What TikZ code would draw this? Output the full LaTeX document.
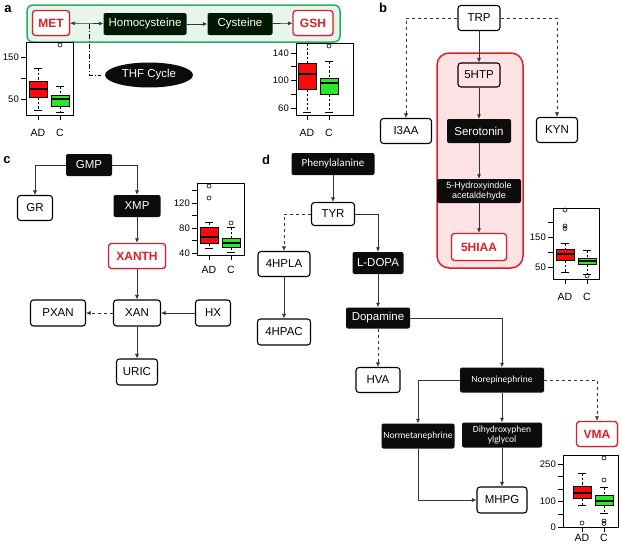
\documentclass[tikz,border=0pt]{standalone}
\usepackage{fontspec}
\setmainfont{Liberation Sans}
\newfontfamily\smallfont{Carlito}
\usetikzlibrary{shapes.geometric, arrows.meta, positioning, shadows}
\definecolor{hitRed}{RGB}{222,30,36}
\definecolor{frameGreen}{RGB}{45,170,100}
\definecolor{frameGreenFill}{RGB}{232,245,236}
\definecolor{framePink}{RGB}{255,226,229}
\definecolor{boxRed}{RGB}{250,10,10}
\definecolor{boxGreen}{RGB}{40,235,40}
\definecolor{nearBlack}{RGB}{12,12,12}

% one group of a boxplot: centre x, upper whisker, Q3, median, Q1, lower whisker, colour, axis bottom
\newcommand{\bpgroup}[8]{%
  \draw[whisk] (#1,#2) -- (#1,#3) (#1,#5) -- (#1,#6);
  \draw[bpline] (#1-4,#2) -- (#1+4,#2) (#1-4,#6) -- (#1+4,#6);
  \draw[bpline, fill=#7] (#1-9,#3) rectangle (#1+9,#5);
  \draw[line width=1.3pt] (#1-9,#4) -- (#1+9,#4);
  \draw[bpline] (#1,#8) -- (#1,#8+5);
}

\begin{document}
\begin{tikzpicture}[
    x=1pt, y=-1pt,
    metab/.style={rectangle, rounded corners=3pt, draw=black, line width=1.1pt, fill=white, minimum height=25pt, inner sep=1pt, font=\fontsize{11.5}{13}\selectfont},
    darkbox/.style={rectangle, rounded corners=2pt, fill=nearBlack, text=white, minimum height=22pt, inner sep=1pt, font=\fontsize{11.5}{13}\selectfont},
    smalldark/.style={darkbox, font=\smallfont\fontsize{9.5}{10.5}\selectfont, align=center},
    hitbox/.style={metab, draw=hitRed, text=hitRed, line width=1.3pt, font=\fontsize{12}{13}\selectfont\bfseries, drop shadow={opacity=0.25, shadow xshift=1pt, shadow yshift=-1pt}},
    arrow/.style={-{Latex[length=4.5pt, width=4pt]}, line width=0.6pt, draw=black!80},
    dasharrow/.style={arrow, dashed},
    panel/.style={font=\fontsize{13}{14}\selectfont\bfseries},
    bpline/.style={line width=0.6pt},
    whisk/.style={line width=0.6pt, dashed, dash pattern=on 2.5pt off 2pt},
    ticklbl/.style={anchor=east, inner sep=1pt, font=\fontsize{9.5}{10}\selectfont},
    grplbl/.style={inner sep=1pt, font=\fontsize{10.5}{11}\selectfont}
]
\useasboundingbox (0,0) rectangle (622,544);

% Panel labels
\node[panel] (pa) at (8,9) {a};
\node[panel] (pb) at (383,8) {b};
\node[panel] (pc) at (7,160) {c};
\node[panel] (pd) at (266,160) {d};

% ---------- a: methionine cycle ----------
\draw[draw=frameGreen, fill=frameGreenFill, line width=1.5pt, rounded corners=6pt] (27,5) rectangle (340,42);
\node[hitbox, minimum width=37pt] (met) at (51,23) {MET};
\node[darkbox, fill=black!90!green, minimum width=83pt] (homocys) at (145,24) {Homocysteine};
\node[darkbox, fill=black!90!green, minimum width=65pt] (cys) at (240,24) {Cysteine};
\node[hitbox, minimum width=40pt] (gsh) at (313,23) {GSH};
\node[ellipse, fill=nearBlack, text=white, minimum width=88pt, minimum height=25pt, font=\fontsize{11.5}{13}\selectfont] (thf) at (149,75) {THF Cycle};
\coordinate (thfjoin) at (89,24);

\draw[arrow, {Latex[length=4.5pt, width=4pt]}-{Latex[length=4.5pt, width=4pt]}] (met) -- (homocys);
\draw[arrow] (homocys) -- (cys);
\draw[arrow] (cys) -- (gsh);
\draw[line width=0.8pt, dash pattern=on 5pt off 2pt on 1pt off 2pt] (thfjoin) |- ([xshift=-4pt]thf.west);

% MET boxplot
\draw[bpline] (26,42) rectangle (73,115);
\foreach \t in {57,78,99} \draw[bpline] (26,\t) -- (21,\t);
\node[ticklbl] (met150) at (20,57) {150};
\node[ticklbl] (met50) at (20,99) {50};
\bpgroup{38}{68}{81}{89}{97}{110}{boxRed}{115}
\bpgroup{60}{86}{95}{99}{106}{112}{boxGreen}{115}
\draw[bpline] (60,45) circle (2pt);
\node[grplbl] (metad) at (38,133) {AD};
\node[grplbl] (metc) at (60,133) {C};

% GSH boxplot
\draw[bpline] (296,43) rectangle (353,115);
\foreach \t in {53,66.75,80.5,94.25,108} \draw[bpline] (296,\t) -- (291,\t);
\node[ticklbl] (gsh140) at (290,53) {140};
\node[ticklbl] (gsh100) at (290,80.5) {100};
\node[ticklbl] (gsh60) at (290,108) {60};
\bpgroup{307}{43}{63}{74}{89}{112}{boxRed}{115}
\bpgroup{329}{61}{78}{83}{94}{112}{boxGreen}{115}
\draw[bpline] (329,46) circle (2pt);
\node[grplbl] (gshad) at (307,133) {AD};
\node[grplbl] (gshc) at (329,133) {C};

% ---------- b: tryptophan ----------
\draw[draw=hitRed, fill=framePink, line width=1.5pt, rounded corners=12pt] (437,53) rectangle (523,268);
\node[metab, minimum width=42pt] (trp) at (479,18) {TRP};
\node[metab, fill=framePink, minimum width=42pt, minimum height=24pt] (htp) at (479,75) {5HTP};
\node[darkbox, minimum width=64pt, minimum height=24pt] (sero) at (479,131) {Serotonin};
\node[darkbox, align=center, font=\fontsize{9}{10}\selectfont, minimum width=84pt, minimum height=24pt] (hial) at (479,191) {5-Hydroxyindole\\acetaldehyde};
\node[hitbox, minimum width=55pt, minimum height=27pt] (hiaa) at (479,247) {5HIAA};
\node[metab, minimum width=51pt] (itaa) at (406,131) {I3AA};
\node[metab, minimum width=41pt] (kyn) at (557,130) {KYN};

\draw[arrow] (trp) -- (htp);
\draw[arrow] (htp) -- (sero);
\draw[arrow] (sero) -- (hial);
\draw[arrow] (hial) -- (hiaa);
\draw[dasharrow] (trp.west) -| (itaa.north);
\draw[dasharrow] (trp.east) -| (kyn.north);

% 5HIAA boxplot
\draw[bpline] (553,208) rectangle (599,279);
\foreach \t in {222,237,252,267} \draw[bpline] (553,\t) -- (548,\t);
\node[ticklbl] (hiaa150) at (547,237) {150};
\node[ticklbl] (hiaa50) at (547,267) {50};
\bpgroup{565}{243}{249}{254}{260}{272}{boxRed}{279}
\bpgroup{587}{250}{258}{261}{264}{274}{boxGreen}{279}
\draw[bpline] (565,210) circle (2pt) (565,226) circle (2pt) (565,228.5) circle (2pt);
\draw[bpline] (587,276) circle (2pt);
\node[grplbl] (hiaaad) at (565,297) {AD};
\node[grplbl] (hiaac) at (587,297) {C};

% ---------- c: purines ----------
\node[darkbox, minimum width=46pt] (gmp) at (89,165) {GMP};
\node[metab, minimum width=35pt] (gr) at (35,208) {GR};
\node[darkbox, minimum width=47pt] (xmp) at (137,206) {XMP};
\node[hitbox, minimum width=57pt] (xanth) at (137,256) {XANTH};
\node[metab, minimum width=47pt, minimum height=26pt] (xan) at (137,313) {XAN};
\node[metab, minimum width=55pt, minimum height=26pt] (pxan) at (58,313) {PXAN};
\node[metab, minimum width=35pt, minimum height=26pt] (hx) at (213,313) {HX};
\node[metab, minimum width=41pt, minimum height=26pt] (uric) at (137,372) {URIC};

\draw[arrow] (gmp.west) -| (gr.north);
\draw[arrow] (gmp.east) -| (xmp.north);
\draw[arrow] (xmp) -- (xanth);
\draw[arrow] (xanth) -- (xan);
\draw[arrow] (hx) -- (xan);
\draw[dasharrow] (xan) -- (pxan);
\draw[arrow] (xan) -- (uric);

% XANTH boxplot
\draw[bpline] (197,183) rectangle (244,255);
\foreach \t in {190.5,203,215.5,228,240.5,253} \draw[bpline] (197,\t) -- (192,\t);
\node[ticklbl] (xanth120) at (191,203) {120};
\node[ticklbl] (xanth80) at (191,228) {80};
\node[ticklbl] (xanth40) at (191,253) {40};
\bpgroup{209}{222}{227}{237}{243}{248}{boxRed}{255}
\bpgroup{231}{227}{238}{243}{247}{252}{boxGreen}{255}
\draw[bpline] (209,186) circle (2pt) (209,198) circle (2pt);
\draw[bpline] (231,223) circle (2pt);
\node[grplbl] (xanthad) at (209,270) {AD};
\node[grplbl] (xanthc) at (231,270) {C};

% ---------- d: tyrosine ----------
\node[darkbox, font=\smallfont\fontsize{11}{12}\selectfont, minimum width=83pt] (phe) at (333,164) {Phenylalanine};
\node[metab, minimum width=43pt, minimum height=23pt] (tyr) at (333,214) {TYR};
\node[metab, minimum width=52pt] (hpla) at (284,264) {4HPLA};
\node[darkbox, minimum width=51pt] (ldopa) at (378,263) {L-DOPA};
\node[metab, minimum width=53pt, minimum height=26pt] (hpac) at (284,332) {4HPAC};
\node[darkbox, minimum width=64pt, minimum height=21pt] (dopa) at (378,318) {Dopamine};
\node[metab, minimum width=44pt] (hva) at (378,380) {HVA};
\node[smalldark, minimum width=84pt, minimum height=25pt] (nore) at (502,380) {Norepinephrine};
\node[smalldark, minimum width=73pt, minimum height=25pt] (normet) at (418,436) {Normetanephrine};
\node[smalldark, minimum width=80pt, minimum height=25pt] (dhpg) at (502,435) {Dihydroxyphen\\ylglycol};
\node[hitbox, minimum width=41pt] (vma) at (597,434) {VMA};
\node[metab, minimum width=50pt, minimum height=26pt] (mhpg) at (502,500) {MHPG};

\draw[arrow] (phe) -- (tyr);
\draw[dasharrow] (tyr.west) -| (hpla.north);
\draw[arrow] (tyr.east) -| (ldopa.north);
\draw[arrow] (hpla) -- (hpac);
\draw[arrow] (ldopa) -- (dopa);
\draw[dasharrow] (dopa) -- (hva);
\draw[arrow] (dopa.east) -| (nore.north);
\draw[arrow] (nore.west) -| (normet.north);
\draw[arrow] (nore) -- (dhpg);
\draw[dasharrow] (nore.east) -| (vma.north);
\draw[arrow] (normet.south) |- (mhpg.west);
\draw[arrow] (dhpg) -- (mhpg);

% VMA boxplot
\draw[bpline] (563,455) rectangle (618,527);
\foreach \t in {464,476,489,501,514,527} \draw[bpline] (563,\t) -- (558,\t);
\node[ticklbl] (vma250) at (557,464) {250};
\node[ticklbl] (vma100) at (557,501) {100};
\node[ticklbl] (vma0) at (557,527) {0};
\bpgroup{582}{473}{486}{493}{498}{505}{boxRed}{527}
\bpgroup{604}{487}{495}{501}{505}{513}{boxGreen}{527}
\draw[bpline] (582,523) circle (2pt);
\draw[bpline] (604,458) circle (2pt) (604,480) circle (2pt) (604,521) circle (2pt) (604,523.5) circle (2pt);
\node[grplbl] (vmaad) at (582,538) {AD};
\node[grplbl] (vmac) at (604,538) {C};

\end{tikzpicture}
\end{document}
